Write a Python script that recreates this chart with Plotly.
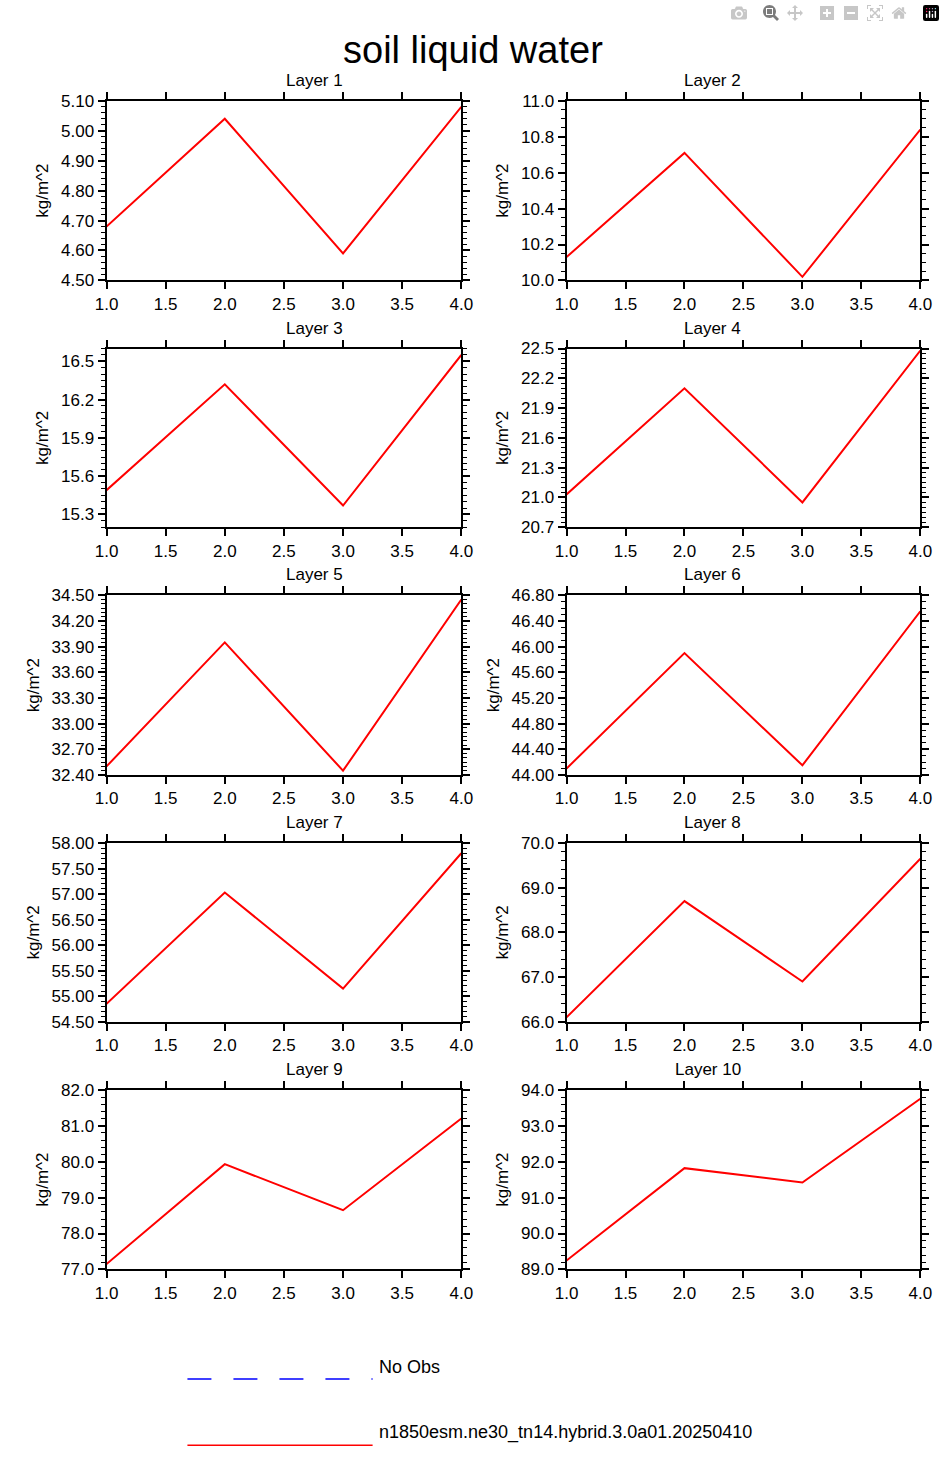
import plotly.graph_objects as go

W, H = 945, 1467

years = [1.0, 2.0, 3.0, 4.0]
layers = ["Layer %d" % i for i in range(1, 11)]
values = [
    [4.68, 5.04, 4.59, 5.08],
    [10.13, 10.71, 10.02, 10.84],
    [15.49, 16.32, 15.37, 16.55],
    [21.03, 22.10, 20.95, 22.48],
    [32.50, 33.95, 32.45, 34.45],
    [44.10, 45.90, 44.15, 46.55],
    [54.85, 57.03, 55.15, 57.80],
    [66.10, 68.70, 66.90, 69.65],
    [77.15, 79.93, 78.65, 81.20],
    [89.25, 91.82, 91.42, 93.75],
]
yranges = [(4.5, 5.1), (10.0, 11.0), (15.2, 16.6), (20.7, 22.5), (32.4, 34.5),
           (44.0, 46.8), (54.5, 58.0), (66.0, 70.0), (77.0, 82.0), (89.0, 94.0)]
ydtick = [0.1, 0.2, 0.3, 0.3, 0.3, 0.4, 0.5, 1.0, 1.0, 1.0]
ytick0 = [4.5, 10.0, 15.3, 20.7, 32.4, 44.0, 54.5, 66.0, 77.0, 89.0]
yfmt = [".2f", ".1f", ".1f", ".1f", ".2f", ".2f", ".2f", ".1f", ".1f", ".1f"]

col_px = [(97, 461), (569, 932)]
row_px = [(93, 275), (344, 525), (594, 776), (845, 1026), (1095, 1277)]

font = "Liberation Sans, Arial, sans-serif"
fig = go.Figure()
layout = dict(width=W, height=H, margin=dict(l=0, r=0, t=0, b=0),
              paper_bgcolor="white", plot_bgcolor="white", showlegend=False,
              font=dict(family=font, color="black", size=17))
annotations = []
for i in range(10):
    r, c = divmod(i, 2)
    n = "" if i == 0 else str(i + 1)
    x0, x1 = col_px[c]
    y0, y1 = row_px[r]
    fig.add_trace(go.Scatter(x=years, y=values[i], mode="lines",
                             line=dict(color="red", width=2),
                             xaxis="x" + n, yaxis="y" + n))
    axis_common = dict(showline=True, linecolor="black", linewidth=2,
                       mirror="allticks", ticks="outside", ticklen=7,
                       tickwidth=1.5, tickcolor="black", showgrid=False,
                       zeroline=False, tickfont=dict(size=17))
    layout["xaxis" + n] = dict(axis_common, domain=[x0 / W, x1 / W],
                               anchor="y" + n, range=[1, 4], tick0=1, dtick=0.5,
                               tickformat=".1f")
    layout["yaxis" + n] = dict(axis_common, domain=[1 - y1 / H, 1 - y0 / H],
                               anchor="x" + n, range=list(yranges[i]),
                               tick0=ytick0[i], dtick=ydtick[i], tickformat=yfmt[i],
                               title=dict(text="kg/m^2", font=dict(size=17), standoff=8),
                               minor=dict(ticks="outside", ticklen=4, tickwidth=1,
                                          tickcolor="black", nticks=6, showgrid=False))
    annotations.append(dict(text=layers[i], x=(x0 + x1) / 2 / W, y=1 - (y0 - 9) / H,
                            xref="paper", yref="paper", showarrow=False,
                            yanchor="bottom", font=dict(size=17)))

annotations.append(dict(text="soil liquid water", x=0.5, y=1 - 18 / H, xref="paper",
                        yref="paper", showarrow=False, font=dict(size=38)))
legend_items = [("No Obs", "blue", "24px,22px", 1388),
                ("n1850esm.ne30_tn14.hybrid.3.0a01.20250410", "red", "solid", 1455)]
shapes = []
for label, color, dash, ypx in legend_items:
    shapes.append(dict(type="line", xref="paper", yref="paper",
                       x0=180 / W, x1=370 / W, y0=1 - ypx / H, y1=1 - ypx / H,
                       line=dict(color=color, width=1.5, dash=dash)))
    annotations.append(dict(text=label, x=375 / W, y=1 - ypx / H, xref="paper",
                            yref="paper", showarrow=False, xanchor="left",
                            font=dict(size=18)))
layout["annotations"] = annotations
layout["shapes"] = shapes
fig.update_layout(**layout)
fig.write_html("out.html",
               post_script="document.body.style.margin='0';"
                           "document.body.style.overflow='hidden';")
